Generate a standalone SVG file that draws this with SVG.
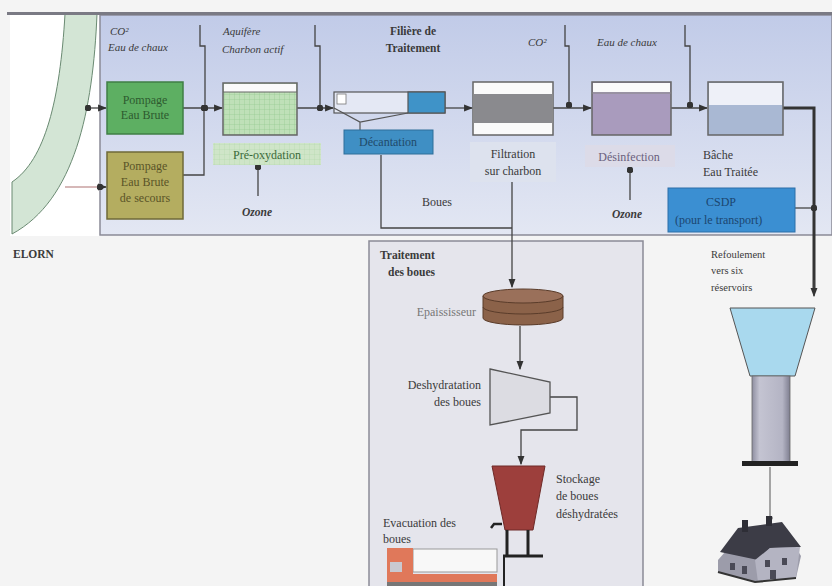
<svg xmlns="http://www.w3.org/2000/svg" width="832" height="586" viewBox="0 0 832 586">
  <defs>
    <linearGradient id="panelFill" x1="0" y1="0" x2="0" y2="1">
      <stop offset="0" stop-color="#c1cbe8"/>
      <stop offset="1" stop-color="#e3e7f3"/>
    </linearGradient>
    <linearGradient id="columnFill" x1="0" y1="0" x2="1" y2="0">
      <stop offset="0" stop-color="#8e8ea0"/>
      <stop offset="0.2" stop-color="#c4c4d2"/>
      <stop offset="0.8" stop-color="#b4b4c4"/>
      <stop offset="1" stop-color="#7e7e90"/>
    </linearGradient>
    <pattern id="grid" width="5" height="5" patternUnits="userSpaceOnUse">
      <rect width="5" height="5" fill="#bfe0b8"/>
      <path d="M5 0V5M0 5H5" stroke="#8cc48a" stroke-width="0.6"/>
    </pattern>
    <pattern id="gridLight" width="5" height="5" patternUnits="userSpaceOnUse">
      <rect width="5" height="5" fill="#cfe5c8"/>
      <path d="M5 0V5M0 5H5" stroke="#acd3a5" stroke-width="0.5"/>
    </pattern>
    <marker id="arrow" viewBox="0 0 8 8" refX="7" refY="4" markerWidth="7" markerHeight="7" orient="auto">
      <path d="M0 1L8 4L0 7Z" fill="#333"/>
    </marker>
    <marker id="dot" viewBox="0 0 6 6" refX="3" refY="3" markerWidth="5" markerHeight="5">
      <circle cx="3" cy="3" r="3" fill="#333"/>
    </marker>
  </defs>
  <style>
    text { font-family: "Liberation Serif", "Times New Roman", serif; fill: #3a3a3a; }
    .lbl { font-size: 12px; }
    .sm { font-size: 10.5px; }
    .it { font-size: 11px; font-style: italic; }
    .bold { font-size: 11.5px; font-weight: bold; }
    .oz { font-size: 11.5px; font-style: italic; font-weight: bold; }
    .ln { fill: none; stroke: #444; stroke-width: 1.3; }
    .thick { fill: none; stroke: #333; stroke-width: 3; }
    .tank { stroke: #666; stroke-width: 1.5; }
  </style>

  <!-- page background -->
  <rect width="832" height="586" fill="#f4f4f4"/>

  <!-- river -->
  <g id="river">
    <rect x="10" y="14" width="92" height="222" fill="#ffffff"/>
    <path d="M65 14 L97 14 C93 110 75 200 12 234 L12 182 C45 160 60 100 65 14 Z" fill="#d3e5d5" stroke="#6a8a72" stroke-width="1"/>
    <text x="13" y="258" class="bold">ELORN</text>
  </g>

  <!-- treatment panel -->
  <g id="panel-traitement">
    <rect x="100" y="15" width="732" height="220" fill="url(#panelFill)" stroke="#8a8a96" stroke-width="1.5"/>
    <rect x="7" y="12" width="825" height="3" fill="#7a7a84"/>
    <text x="413" y="35" class="bold" text-anchor="middle">Filière de</text>
    <text x="413" y="52" class="bold" text-anchor="middle">Traitement</text>
  </g>

  <!-- sludge panel -->
  <g id="panel-boues">
    <rect x="369" y="241" width="274" height="350" fill="#e5e5ec" stroke="#8a8a96" stroke-width="1.5"/>
    <text x="380" y="259" class="bold">Traitement</text>
    <text x="388" y="276" class="bold">des boues</text>
  </g>

  <!-- connectors -->
  <g id="connectors">
    <!-- main water line -->
    <path class="ln" d="M88 108 H106" marker-end="url(#arrow)" marker-start="url(#dot)"/>
    <path class="ln" d="M183 108 H222" marker-end="url(#arrow)"/>
    <path class="ln" d="M297 108 H333" marker-end="url(#arrow)"/>
    <path class="ln" d="M443 108 H472" marker-end="url(#arrow)"/>
    <path class="ln" d="M553 108 H591" marker-end="url(#arrow)"/>
    <path class="ln" d="M671 108 H707" marker-end="url(#arrow)"/>
    <path class="thick" d="M783 108 H814 V292"/>
    <path class="ln" d="M814 280 V296" marker-end="url(#arrow)"/>
    <!-- emergency pump -->
    <path d="M65 187 H100" fill="none" stroke="#c8a0a0" stroke-width="1.3"/>
    <path class="ln" d="M100 187 H106" marker-end="url(#arrow)" marker-start="url(#dot)"/>
    <path class="ln" d="M183 175 H204 V108" marker-end="url(#dot)"/>
    <!-- chemical dosing -->
    <path class="ln" d="M200 25 V46 H205 V108" marker-end="url(#dot)"/>
    <path class="ln" d="M315 25 V46 H320 V108" marker-end="url(#dot)"/>
    <path class="ln" d="M565 25 V46 H569 V105" marker-end="url(#dot)"/>
    <path class="ln" d="M685 25 V46 H690 V105" marker-end="url(#dot)"/>
    <!-- ozone -->
    <path class="ln" d="M258 196 V167" marker-end="url(#dot)"/>
    <path class="ln" d="M630 200 V170" marker-end="url(#dot)"/>
    <!-- CSDP -->
    <path class="ln" d="M795 208 H814" marker-end="url(#dot)"/>
    <!-- sludge line -->
    <path class="ln" d="M381 155 V228 H512"/>
    <path class="ln" d="M512 180 V287" marker-end="url(#arrow)"/>
    <path class="ln" d="M520 326 V369" marker-end="url(#arrow)"/>
    <path class="ln" d="M550 397 H577 V430 H521 V464" marker-end="url(#arrow)"/>
    <!-- distribution -->
    <path d="M770 467 V518" fill="none" stroke="#555" stroke-width="1" marker-end="url(#dot)"/>
  </g>

  <g id="dosage-labels">
    <text x="110" y="35" class="it">CO²</text>
    <text x="108" y="51" class="it">Eau de chaux</text>
    <text x="223" y="35" class="it">Aquifère</text>
    <text x="222" y="53" class="it">Charbon actif</text>
    <text x="528" y="46" class="it">CO²</text>
    <text x="597" y="46" class="it">Eau de chaux</text>
    <text x="242" y="216" class="oz">Ozone</text>
    <text x="612" y="218" class="oz">Ozone</text>
    <text x="422" y="206" class="lbl">Boues</text>
  </g>

  <g id="pompage-eau-brute">
    <rect x="107" y="82" width="76" height="52" fill="#5daf62" stroke="#3f7f45" stroke-width="1.5"/>
    <text x="145" y="104" class="lbl" text-anchor="middle" style="fill:#2d5a2f">Pompage</text>
    <text x="145" y="119" class="lbl" text-anchor="middle" style="fill:#2d5a2f">Eau Brute</text>
  </g>

  <g id="pompage-secours">
    <rect x="107" y="152" width="76" height="67" fill="#b4ad60" stroke="#6f6a38" stroke-width="1.5"/>
    <text x="145" y="170" class="lbl" text-anchor="middle" style="fill:#5a5428">Pompage</text>
    <text x="145" y="186" class="lbl" text-anchor="middle" style="fill:#5a5428">Eau Brute</text>
    <text x="145" y="202" class="lbl" text-anchor="middle" style="fill:#5a5428">de secours</text>
  </g>

  <g id="pre-oxydation">
    <rect x="223" y="83" width="74" height="52" fill="url(#grid)" class="tank"/>
    <rect x="224" y="84" width="72" height="8" fill="#fafafa"/>
    <line x1="223" y1="92" x2="297" y2="92" stroke="#666" stroke-width="1"/>
    <rect x="213" y="143" width="108" height="22" fill="url(#gridLight)"/>
    <text x="267" y="159" class="lbl" text-anchor="middle" style="fill:#3a6a3a">Pré-oxydation</text>
  </g>

  <g id="decantation">
    <rect x="334" y="92" width="111" height="21" fill="#e4e8f4" stroke="#555" stroke-width="1.2"/>
    <rect x="337" y="94" width="9" height="10" fill="#fff" stroke="#777" stroke-width="0.8"/>
    <rect x="408" y="92" width="37" height="21" fill="#3f93c8" stroke="#555" stroke-width="1.2"/>
    <path d="M334 108 L360 122 L408 113 M360 122 V130" fill="none" stroke="#555" stroke-width="1.2"/>
    <rect x="344" y="130" width="89" height="24" fill="#3f8fc4" stroke="#2e6e99" stroke-width="1"/>
    <text x="388" y="146" class="lbl" text-anchor="middle" style="fill:#1f4a6a">Décantation</text>
  </g>

  <g id="filtration">
    <rect x="473" y="82" width="80" height="53" fill="#fafafa" class="tank"/>
    <rect x="474" y="94" width="78" height="29" fill="#8a8a8e"/>
    <rect x="470" y="142" width="86" height="40" fill="#dde2ee"/>
    <text x="513" y="158" class="lbl" text-anchor="middle">Filtration</text>
    <text x="513" y="175" class="lbl" text-anchor="middle">sur charbon</text>
  </g>

  <g id="desinfection">
    <rect x="592" y="82" width="79" height="53" fill="#a99bbd" class="tank"/>
    <rect x="593" y="83" width="77" height="9" fill="#fafafa"/>
    <line x1="592" y1="93" x2="671" y2="93" stroke="#888" stroke-width="1"/>
    <rect x="585" y="145" width="90" height="22" fill="#dcdbe8"/>
    <text x="629" y="161" class="lbl" text-anchor="middle" style="fill:#6a5f7c">Désinfection</text>
  </g>

  <g id="bache">
    <rect x="708" y="82" width="75" height="53" fill="#a9b8d3" class="tank"/>
    <rect x="709" y="83" width="73" height="22" fill="#eef0f8"/>
    <text x="703" y="159" class="lbl">Bâche</text>
    <text x="703" y="176" class="lbl">Eau Traitée</text>
  </g>

  <g id="csdp">
    <rect x="668" y="188" width="127" height="44" fill="#3b8fd2" stroke="#2c6fa8" stroke-width="1"/>
    <text x="706" y="206" class="lbl" style="fill:#1c4670">CSDP</text>
    <text x="675" y="224" class="lbl" style="fill:#1c4670">(pour le transport)</text>
  </g>

  <g id="epaississeur">
    <path d="M483 296 V318 A40 7 0 0 0 563 318 V296 Z" fill="#8b6249" stroke="#5a3c2a" stroke-width="1"/>
    <ellipse cx="523" cy="296" rx="40" ry="7" fill="#9a705a" stroke="#5a3c2a" stroke-width="1"/>
    <path d="M483 307 A40 7 0 0 0 563 307" fill="none" stroke="#5a3c2a" stroke-width="1"/>
    <text x="476" y="316" class="lbl" text-anchor="end" style="fill:#777">Epaississeur</text>
  </g>

  <g id="deshydratation">
    <path d="M490 369 L550 382 L550 413 L490 425 Z" fill="#dcdce2" stroke="#555" stroke-width="1.3"/>
    <text x="481" y="389" class="lbl" text-anchor="end">Deshydratation</text>
    <text x="481" y="406" class="lbl" text-anchor="end">des boues</text>
  </g>

  <g id="stockage">
    <path d="M492 466 H545 L533 530 H505 Z" fill="#9d3f3c" stroke="#6e2a28" stroke-width="1"/>
    <path d="M507 530 V555 M528 530 V555" stroke="#222" stroke-width="3"/>
    <path d="M503 556 H543" stroke="#222" stroke-width="3"/>
    <path d="M504 556 V586" stroke="#222" stroke-width="2"/>
    <path d="M491 528 L494 524 H502" fill="none" stroke="#222" stroke-width="2.5"/>
    <text x="556" y="483" class="lbl">Stockage</text>
    <text x="556" y="500" class="lbl">de boues</text>
    <text x="556" y="518" class="lbl">déshydratées</text>
  </g>

  <g id="evacuation">
    <text x="383" y="527" class="lbl">Evacuation des</text>
    <text x="383" y="543" class="lbl">boues</text>
    <rect x="413" y="549" width="84" height="23" fill="#f8f8f8" stroke="#999" stroke-width="1"/>
    <rect x="387" y="548" width="26" height="38" fill="#e0785a"/>
    <rect x="390" y="562" width="12" height="10" fill="#c9c9d0"/>
    <rect x="387" y="574" width="110" height="8" fill="#e0785a"/>
    <rect x="387" y="582" width="110" height="4" fill="#777"/>
  </g>

  <g id="reservoir">
    <text x="711" y="258" class="sm">Refoulement</text>
    <text x="711" y="274" class="sm">vers six</text>
    <text x="711" y="291" class="sm">réservoirs</text>
    <path d="M730 308 H815 L795 376 H750 Z" fill="#a9d9ee" stroke="#555" stroke-width="1"/>
    <rect x="752" y="376" width="38" height="86" fill="url(#columnFill)" stroke="#666" stroke-width="0.8"/>
    <rect x="742" y="461" width="56" height="5" fill="#222"/>
  </g>

  <g id="maison">
    <path d="M718 560 L740 535 L790 538 L801 556 L796 578 L755 582 L718 572 Z" fill="#9c9caa"/>
    <path d="M720 552 L738 528 L782 522 L801 547 L770 548 L758 560 Z" fill="#3c3c46"/>
    <rect x="742" y="520" width="6" height="12" fill="#2e2e36"/>
    <rect x="766" y="516" width="6" height="10" fill="#2e2e36"/>
    <path d="M755 560 L770 548 L800 547 L796 578 L758 582 Z" fill="#b4b4c2"/>
    <rect x="730" y="563" width="5" height="7" fill="#4a4a56"/>
    <rect x="742" y="566" width="5" height="8" fill="#4a4a56"/>
    <rect x="765" y="560" width="5" height="7" fill="#4a4a56"/>
    <rect x="782" y="558" width="5" height="7" fill="#4a4a56"/>
    <rect x="770" y="570" width="6" height="9" fill="#4a4a56"/>
    <path d="M718 572 L755 582 L796 578" fill="none" stroke="#333" stroke-width="2"/>
  </g>
</svg>
